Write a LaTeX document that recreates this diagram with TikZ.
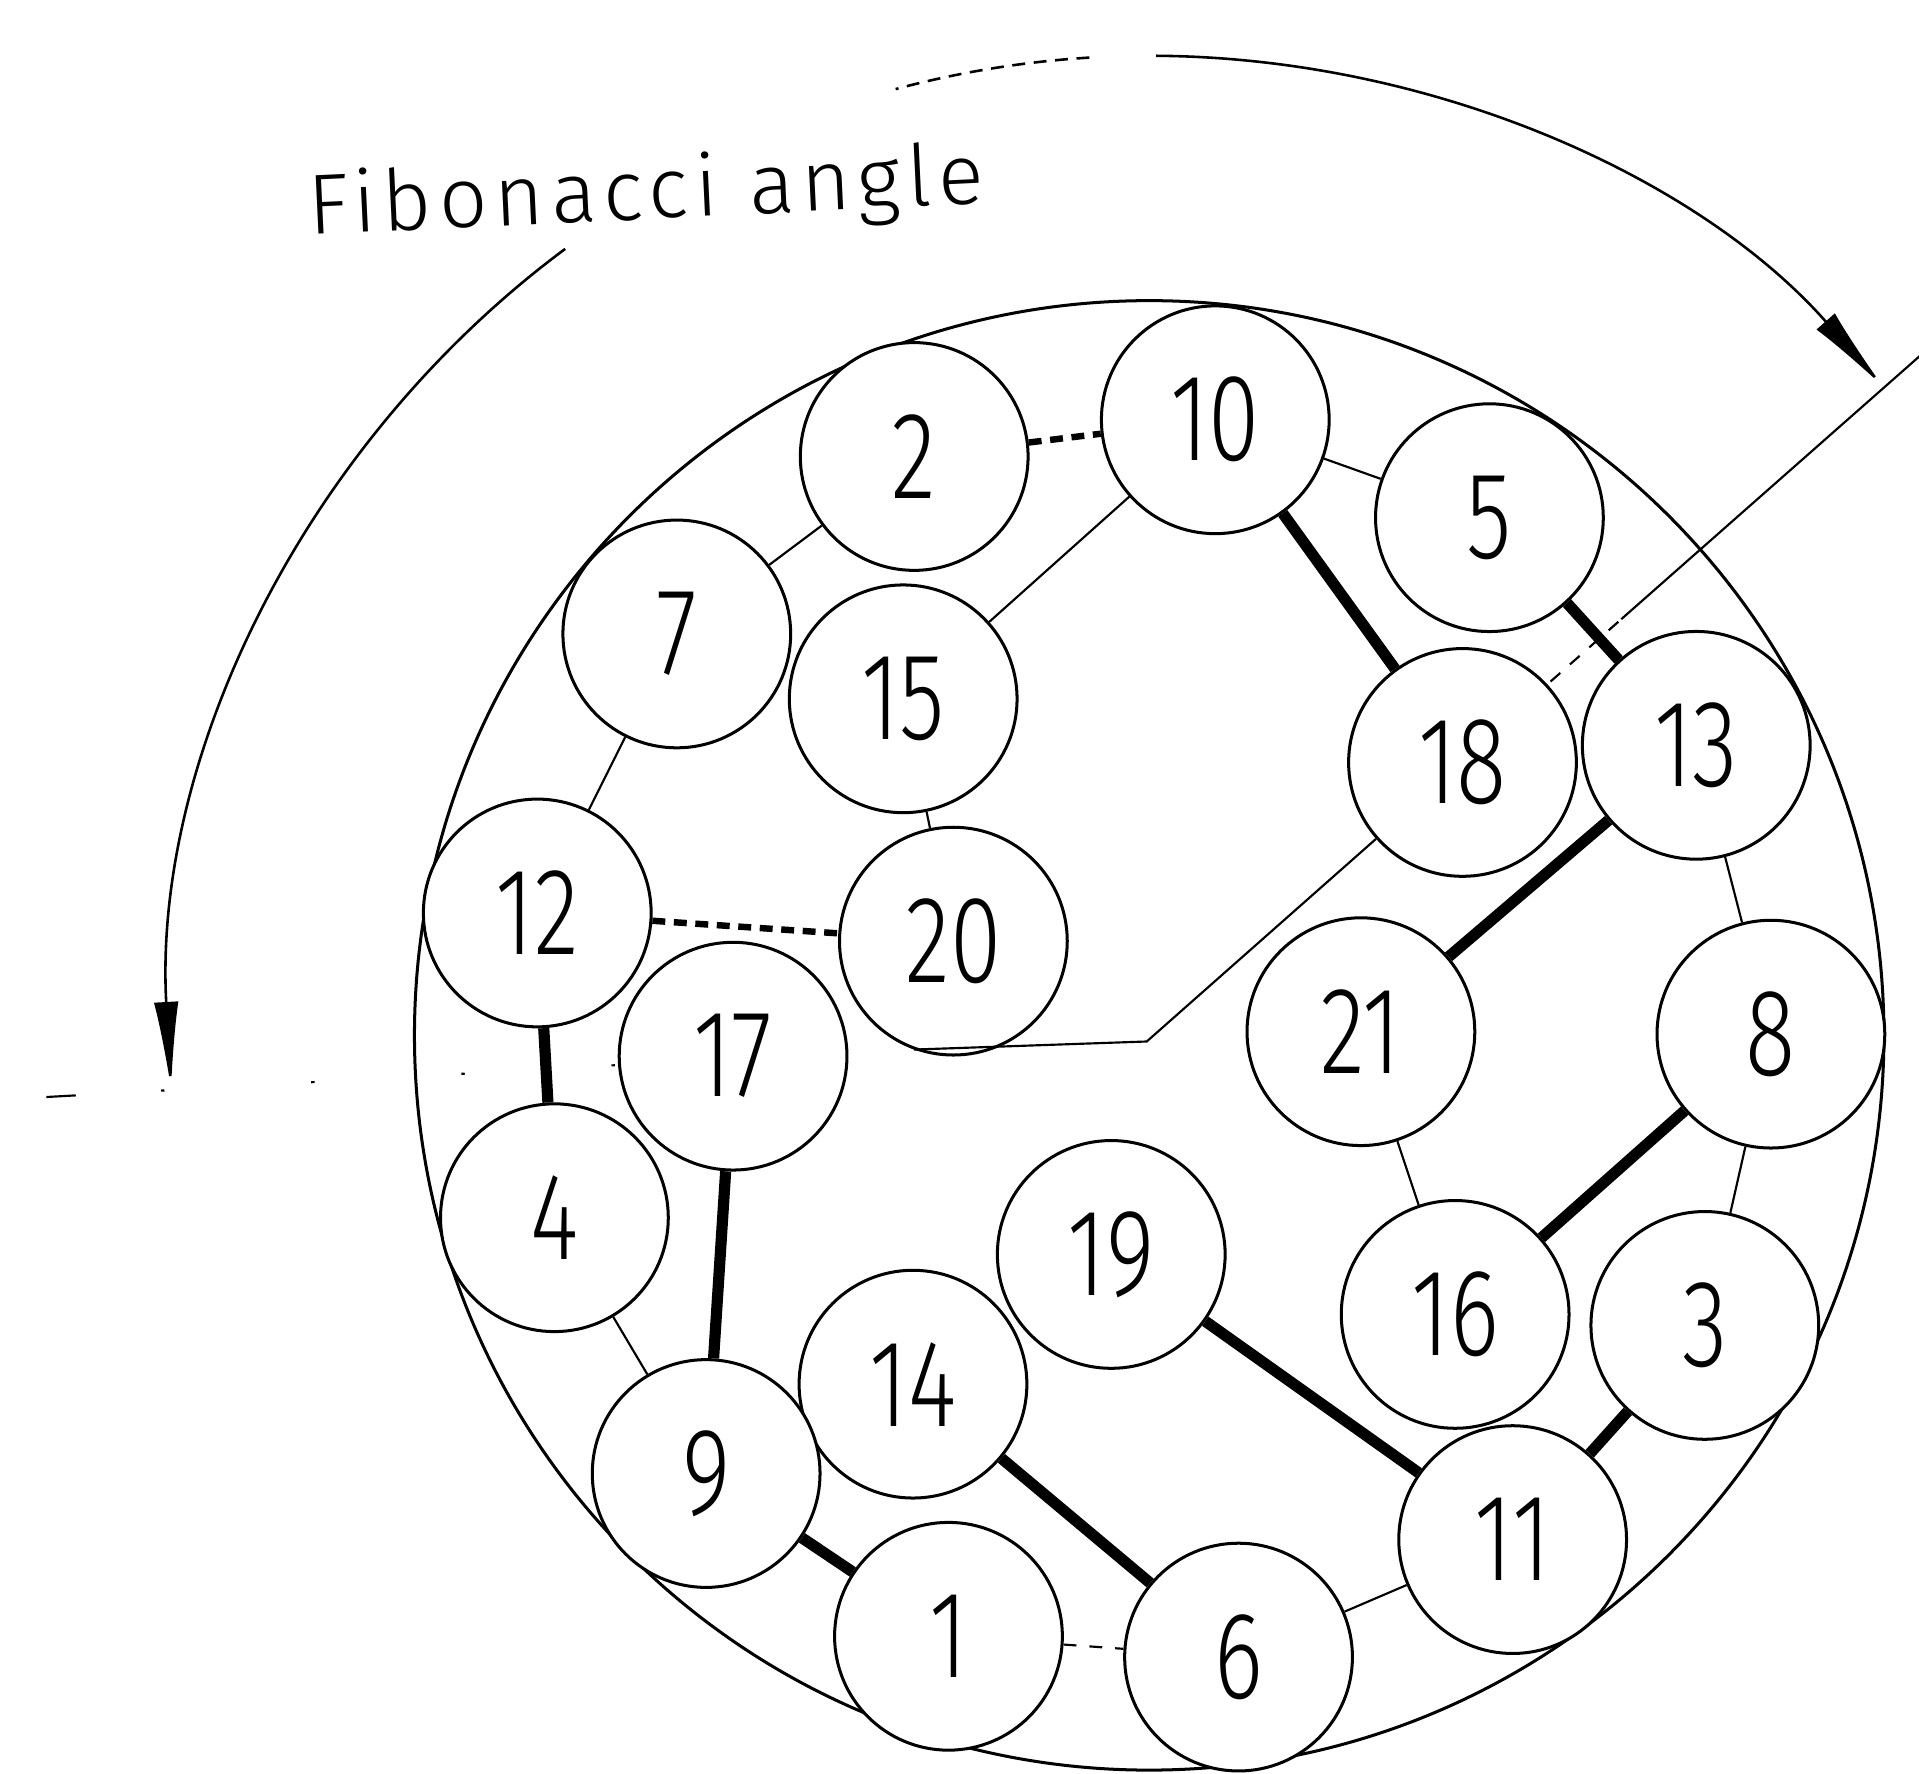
\documentclass[tikz,border=0pt]{standalone}
\usepackage{fontspec}
\usepackage{graphicx}
\usetikzlibrary{arrows.meta}
\newfontfamily\digfont{Fira Sans Light}
\newfontfamily\lblfont[LetterSpace=8]{Fira Sans Light}
\newcommand{\dg}[1]{\scalebox{0.75}[1]{\digfont\fontsize{28.8}{30}\selectfont #1}}
\begin{document}
\begin{tikzpicture}[x=0.01cm,y=0.01cm,
  ball/.style={circle, draw, line width=0.7pt, minimum size=1.86cm, inner sep=0pt, fill=white},
  thinline/.style={line width=0.5pt},
  heavy/.style={line width=2.6pt},
  faint/.style={line width=1.5pt, dash pattern=on 3pt off 2pt},
  fibarrow/.style={line width=0.6pt}
]
\useasboundingbox (0,0) rectangle (1568,-1449);
\coordinate (C) at (939,-846);
% outer circle
\node[circle, draw, line width=0.7pt, minimum size=12cm, inner sep=0pt] (outer) at (C) {};

% radial lines
\coordinate (R1in) at ([shift={(C)}]41.4:4.37cm);
\coordinate (R1mid) at ([shift={(C)}]41.4:5.14cm);
\coordinate (R1out) at ([shift={(C)}]41.4:8.40cm);
\draw[thinline, dashed] (R1in) -- (R1mid);
\draw[thinline] (R1mid) -- (R1out);
\coordinate (L1in) at ([shift={(C)}]183.2:4.37cm);
\coordinate (L1a) at ([shift={(C)}]183.2:8.78cm);
\coordinate (L1b) at ([shift={(C)}]183.2:9.02cm);
\draw[thinline, dash pattern=on 0.8pt off 1.2cm] (L1in) -- (L1a);
\draw[thinline] (L1a) -- (L1b);

% Fibonacci angle arc
\draw[fibarrow, {Latex[length=0.72cm,width=0.2cm]}-] ([shift={(C)}]41.4:8cm) arc[start angle=41.4, end angle=89.6, radius=8cm];
\draw[fibarrow, densely dashed] ([shift={(C)}]93.5:8cm) arc[start angle=93.5, end angle=105, radius=8cm];
\draw[fibarrow, -{Latex[length=0.72cm,width=0.2cm]}] ([shift={(C)}]126.6:8cm) arc[start angle=126.6, end angle=183.2, radius=8cm];

\node[font=\lblfont\fontsize{19.8}{22}\selectfont, anchor=base west, rotate=2.7, inner sep=0pt] (lbl) at (252,-192) {Fibonacci angle};

% balls
\node[ball] (n2)  at (747,-373)  {\dg{2}};
\node[ball] (n10) at (993,-343)  {\dg{10}};
\node[ball] (n5)  at (1217,-423) {\dg{5}};
\node[ball] (n7)  at (553,-518)  {\dg{7}};
\node[ball] (n15) at (738,-571)  {\dg{15}};
\node[ball] (n18) at (1195,-623) {\dg{18}};
\node[ball] (n13) at (1386,-609) {\dg{13}};
\node[ball] (n12) at (439,-746)  {\dg{12}};
\node[ball] (n20) at (779,-769)  {\dg{20}};
\node[ball] (n17) at (599,-863)  {\dg{17}};
\node[ball] (n21) at (1112,-843) {\dg{21}};
\node[ball] (n8)  at (1447,-845) {\dg{8}};
\node[ball] (n4)  at (453,-995)  {\dg{4}};
\node[ball] (n19) at (908,-1025) {\dg{19}};
\node[ball] (n16) at (1189,-1074) {\dg{16}};
\node[ball] (n3)  at (1393,-1083) {\dg{3}};
\node[ball] (n14) at (746,-1131) {\dg{14}};
\node[ball] (n9)  at (577,-1204) {\dg{9}};
\node[ball] (n11) at (1236,-1258) {\dg{11}};
\node[ball] (n1)  at (775,-1337) {\dg{1}};
\node[ball] (n6)  at (1012,-1354) {\dg{6}};

% thin connectors
\draw[thinline] (n2) -- (n7);
\draw[thinline] (n10) -- (n15);
\draw[thinline] (n10) -- (n5);
\draw[thinline] (n13) -- (n8);
\draw[thinline] (n8) -- (n3);
\draw[thinline] (n21) -- (n16);
\draw[thinline] (n4) -- (n9);
\draw[thinline] (n7) -- (n12);
\draw[thinline] (n15) -- (n20);
\draw[thinline] (n6) -- (n11);
\coordinate (bend) at (937,-851);
\draw[thinline] (n20.250) -- (bend) -- (n18);
\draw[thinline, dashed] (n1) -- (n6);
% heavy connectors
\draw[heavy] (n10) -- (n18);
\draw[heavy] (n5) -- (n13);
\draw[heavy] (n13) -- (n21);
\draw[heavy] (n8) -- (n16);
\draw[heavy] (n3) -- (n11);
\draw[heavy] (n19) -- (n11);
\draw[heavy] (n14) -- (n6);
\draw[heavy] (n9) -- (n1);
\draw[heavy] (n17) -- (n9);
\draw[heavy] (n12) -- (n4);
% faint connectors
\draw[faint] (n2) -- (n10);
\draw[faint] (n12) -- (n20);
\end{tikzpicture}
\end{document}
